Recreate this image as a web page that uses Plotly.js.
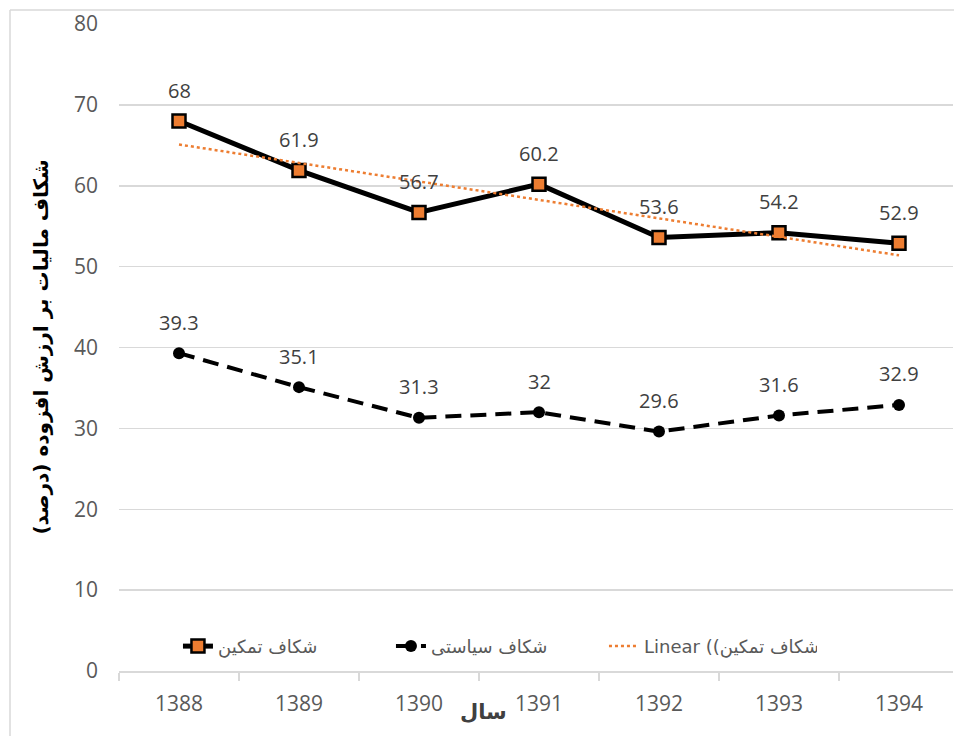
<!DOCTYPE html>
<html>
<head>
<meta charset="utf-8">
<script src="https://cdn.plot.ly/plotly-3.0.1.min.js"></script>
<style>html,body{margin:0;padding:0;background:#fff;overflow:hidden}</style>
</head>
<body>
<div id="chart" style="width:954px;height:736px"></div>
<script>
const years = ['1388','1389','1390','1391','1392','1393','1394'];
const complianceGap = [68, 61.9, 56.7, 60.2, 53.6, 54.2, 52.9];
const policyGap = [39.3, 35.1, 31.3, 32, 29.6, 31.6, 32.9];
const trendYears = ['1388','1394'];
const trendValues = [65.1, 51.4];
const yTicks = [0,10,20,30,40,50,60,70,80];

const nameCompliance = 'شکاف تمکین';
const namePolicy = 'شکاف سیاستی';
const nameTrend = 'Linear ((شکاف تمکین';
const yTitle = 'شکاف مالیات بر ارزش افزوده (درصد)\u200F';
const xTitle = 'سال';

const numFont = 'Open Sans, DejaVu Sans, sans-serif';
const arFont = 'DejaVu Sans, sans-serif';

const traces = [
  {
    x: years, y: complianceGap, name: nameCompliance, type: 'scatter', mode: 'lines+markers',
    line: {color: '#000000', width: 5},
    marker: {symbol: 'square', size: 13, color: '#ED7D31', line: {color: '#000000', width: 2.5}}
  },
  {
    x: years, y: policyGap, name: namePolicy, type: 'scatter', mode: 'lines+markers',
    line: {color: '#000000', width: 4, dash: '16px,9px'},
    marker: {symbol: 'circle', size: 12, color: '#000000'}
  },
  {
    x: trendYears, y: trendValues, name: nameTrend, type: 'scatter', mode: 'lines',
    line: {color: '#ED7D31', width: 2.5, dash: 'dot'}
  }
];

const annotations = [];
years.forEach((yr, i) => {
  annotations.push({x: i, y: complianceGap[i], xref: 'x', yref: 'y', text: String(complianceGap[i]),
    showarrow: false, yshift: 31, font: {family: numFont, size: 20, color: '#404040'}});
  annotations.push({x: i, y: policyGap[i], xref: 'x', yref: 'y', text: String(policyGap[i]),
    showarrow: false, yshift: 31, font: {family: numFont, size: 20, color: '#404040'}});
});
annotations.push({xref: 'paper', yref: 'paper', x: 0.4376, y: -0.0634, text: '<b>' + xTitle + '</b>',
  showarrow: false, xanchor: 'center', yanchor: 'middle', font: {family: arFont, size: 21, color: '#404040'}});
annotations.push({xref: 'paper', yref: 'paper', x: -0.0947, y: 0.5, text: '<b>' + yTitle + '</b>',
  textangle: -90, showarrow: false, xanchor: 'center', yanchor: 'middle', font: {family: arFont, size: 20, color: '#000000'}});

const layout = {
  width: 954, height: 736,
  margin: {l: 119, r: 1, t: 24, b: 65},
  paper_bgcolor: '#ffffff', plot_bgcolor: '#ffffff',
  showlegend: true,
  legend: {orientation: 'h', x: 0.0707, xanchor: 'left', y: 0.038, yanchor: 'middle',
    entrywidth: 168, entrywidthmode: 'pixels',
    font: {family: arFont, size: 18, color: '#595959'}, bgcolor: 'rgba(0,0,0,0)'},
  xaxis: {
    type: 'category', range: [-0.5, 6.45], showgrid: false, zeroline: false,
    showline: true, linecolor: '#d9d9d9', linewidth: 1.5,
    ticks: 'outside', tickson: 'boundaries', ticklen: 8, tickcolor: '#d9d9d9', tickwidth: 1.5,
    tickfont: {family: numFont, size: 21, color: '#595959'}, ticklabelstandoff: 13
  },
  yaxis: {
    range: [0, 80], tickvals: yTicks, showgrid: true, gridcolor: '#d9d9d9', gridwidth: 1.5,
    zeroline: false, showline: false, ticks: '',
    tickfont: {family: numFont, size: 21, color: '#595959'}, ticklabelstandoff: 20
  },
  annotations: annotations,
  shapes: [
    {type: 'line', xref: 'paper', yref: 'paper', x0: -0.1307, x1: -0.1307, y0: 1.0216, y1: -0.2, line: {color: '#d9d9d9', width: 1.5}},
    {type: 'line', xref: 'paper', yref: 'paper', x0: -0.1307, x1: 1.1, y0: 1.0216, y1: 1.0216, line: {color: '#d9d9d9', width: 1.5}}
  ]
};

Plotly.newPlot('chart', traces, layout, {displayModeBar: false, staticPlot: true});
</script>
</body>
</html>
